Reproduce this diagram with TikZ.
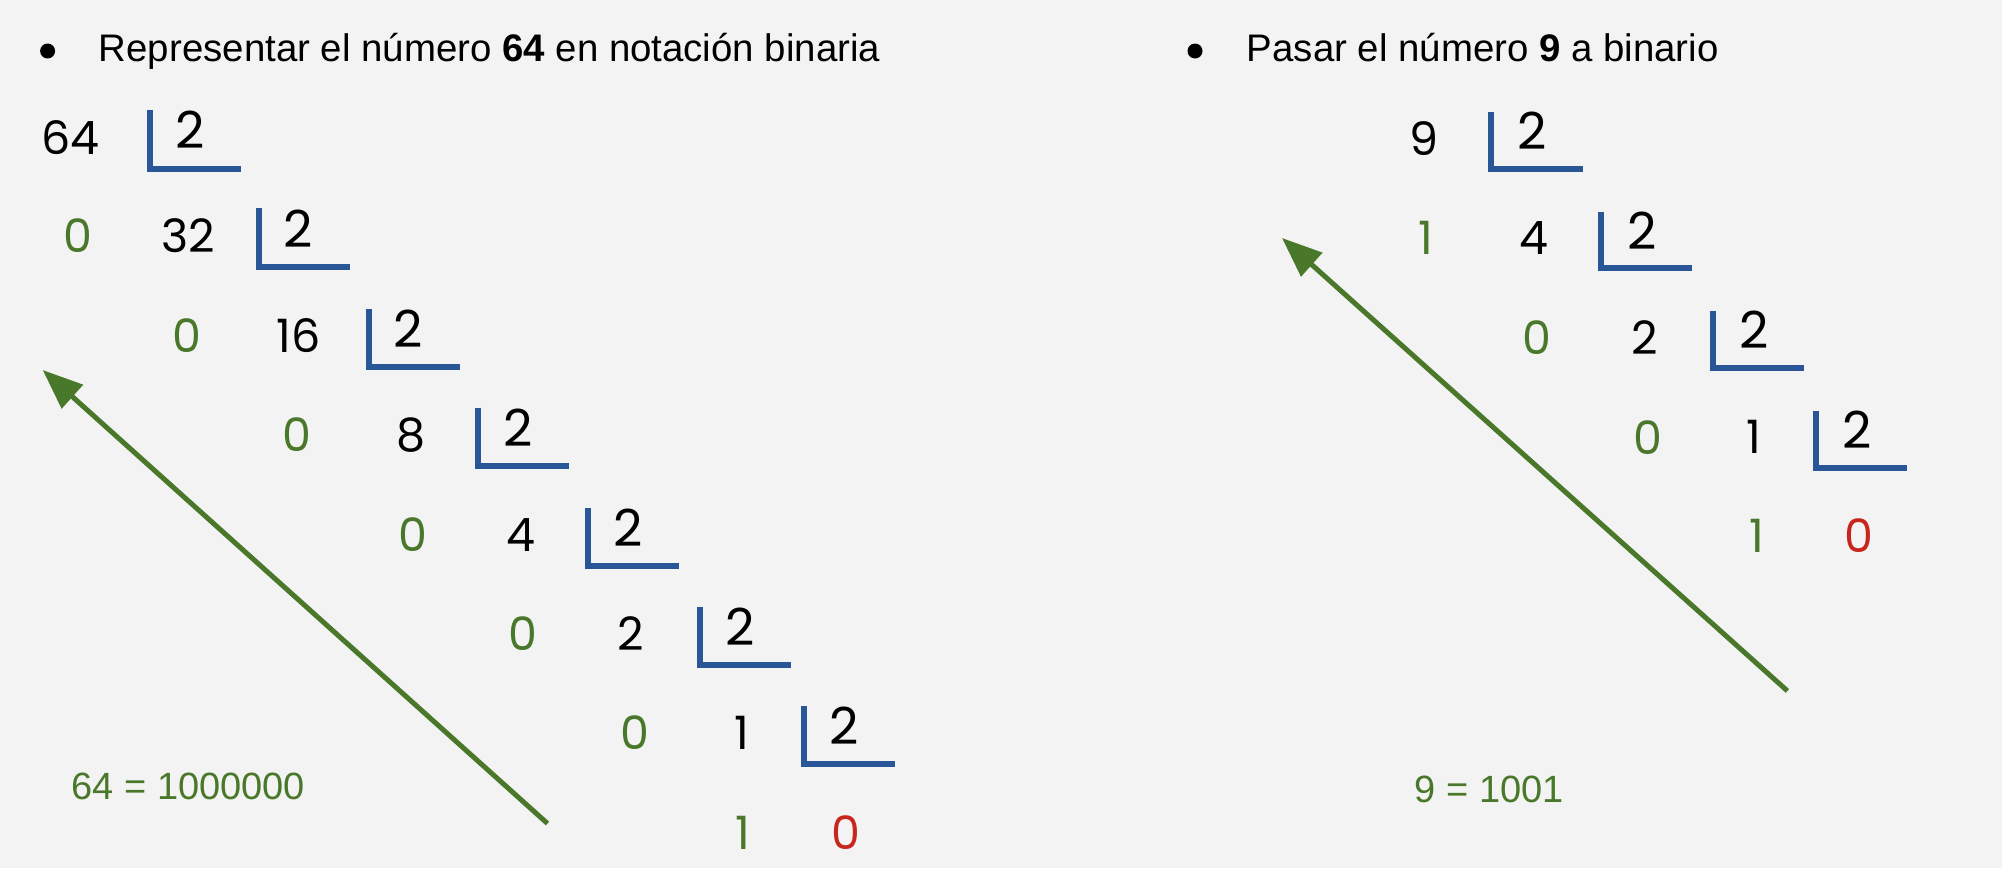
\documentclass[tikz,border=0pt]{standalone}
\usepackage{fontspec}
\setmainfont{Liberation Sans}
\newfontfamily\digitfont{Poppins}
\usetikzlibrary{arrows.meta}
\definecolor{bgc}{RGB}{243,243,243}
\definecolor{divblue}{RGB}{40,86,150}
\definecolor{remgreen}{RGB}{74,120,42}
\definecolor{lastred}{RGB}{200,38,28}
\begin{document}
\begin{tikzpicture}[x=1pt,y=-1pt,
  hdr/.style={font=\fontsize{38.4}{46}\selectfont, anchor=base west, inner sep=0pt},
  bul/.style={circle, fill=black, inner sep=0pt, minimum size=15pt},
  num/.style={font=\digitfont\fontsize{46}{50}\selectfont, inner sep=0pt, text=black},
  rem/.style={num, text=remgreen},
  lastrem/.style={num, text=lastred},
  divisor/.style={font=\digitfont\fontsize{51}{55}\selectfont, inner sep=0pt},
  bracket/.style={draw=divblue, line width=6pt},
  result/.style={font=\fontsize{38}{46}\selectfont, text=remgreen, anchor=west, inner sep=0pt},
  readarrow/.style={draw=remgreen, line width=5pt, -{Triangle[length=40pt,width=31pt]}}
]
\fill[bgc] (0,0) rectangle (2002,868);
\useasboundingbox (0,0) rectangle (2002,868);

% headers
\node[bul] (lb) at (47.6,51) {};
\node[hdr] (lh) at (98.7,61.7) {Representar el número \textbf{64} en notación binaria};
\node[bul] (rb) at (1195,51) {};
\node[hdr] (rh) at (1246.7,61.7) {Pasar el número \textbf{9} a binario};

% ---- left: 64 ----
\node[num] (l0n) at (70.3,137.5) {64};
\draw[bracket] (149.7,110) |- (240.7,168.7);
\node[divisor] (l0d) at (189.7,130) {2};

\node[rem] (l1r) at (77.5,235.8) {0};
\node[num] (l1n) at (188,235.8) {32};
\draw[bracket] (258.5,208.3) |- (349.5,267);
\node[divisor] (l1d) at (298.5,228.3) {2};

\node[rem] (l2r) at (187,336) {0};
\node[num] (l2n) at (298.5,336) {16};
\draw[bracket] (368.6,308.5) |- (459.6,367.2);
\node[divisor] (l2d) at (408.6,328.5) {2};

\node[rem] (l3r) at (296.6,435) {0};
\node[num] (l3n) at (411,435) {8};
\draw[bracket] (478,407.5) |- (569,466.2);
\node[divisor] (l3d) at (518,427.5) {2};

\node[rem] (l4r) at (413,535) {0};
\node[num] (l4n) at (521,535) {4};
\draw[bracket] (588,507.5) |- (679,566.2);
\node[divisor] (l4d) at (628,527.5) {2};

\node[rem] (l5r) at (523,634) {0};
\node[num] (l5n) at (631,634) {2};
\draw[bracket] (699.7,606.5) |- (790.7,665.2);
\node[divisor] (l5d) at (739.7,626.5) {2};

\node[rem] (l6r) at (634.6,733) {0};
\node[num] (l6n) at (742,733) {1};
\draw[bracket] (803.7,705.5) |- (894.7,764.2);
\node[divisor] (l6d) at (843.7,725.5) {2};

\node[rem] (l7r) at (743,832.5) {1};
\node[lastrem] (l7q) at (846,832.5) {0};

\node[result] (lres) at (71.4,786) {64 = 1000000};
\coordinate (la1) at (547.5,823.5);
\coordinate (la2) at (42.7,370);
\draw[readarrow] (la1) -- (la2);

% ---- right: 9 ----
\node[num] (r0n) at (1424.4,138.4) {9};
\draw[bracket] (1491.3,112) |- (1582.8,168.8);
\node[divisor] (r0d) at (1532.3,131) {2};

\node[rem] (r1r) at (1426,238) {1};
\node[num] (r1n) at (1534,238) {4};
\draw[bracket] (1601,211.5) |- (1692,268.4);
\node[divisor] (r1d) at (1642,230.5) {2};

\node[rem] (r2r) at (1537,337.7) {0};
\node[num] (r2n) at (1644.5,337.7) {2};
\draw[bracket] (1713,311) |- (1804,368);
\node[divisor] (r2d) at (1754,330.2) {2};

\node[rem] (r3r) at (1648.3,437.3) {0};
\node[num] (r3n) at (1754,437.3) {1};
\draw[bracket] (1816,410.8) |- (1907,467.5);
\node[divisor] (r3d) at (1857,429.8) {2};

\node[rem] (r4r) at (1757,536) {1};
\node[lastrem] (r4q) at (1859,536) {0};

\node[result] (rres) at (1414.6,789) {9 = 1001};
\coordinate (ra1) at (1787.4,690.9);
\coordinate (ra2) at (1282,238);
\draw[readarrow] (ra1) -- (ra2);
\end{tikzpicture}
\end{document}
